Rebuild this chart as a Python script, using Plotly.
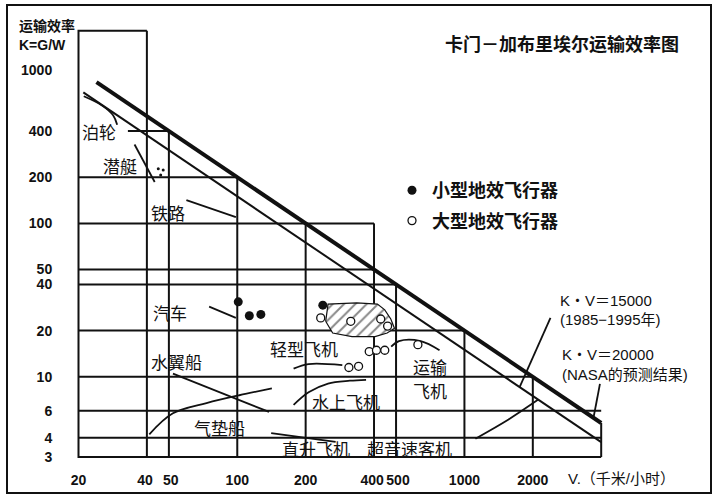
import numpy as np
import plotly.graph_objects as go

# ---------------- axis ticks ----------------
X_TICKS = [20, 40, 50, 100, 200, 400, 500, 1000, 2000]
Y_TICKS = [3, 4, 6, 10, 20, 40, 50, 100, 200, 400, 1000]

# ---------------- frame of the diagram (values) ----------------
V_LEFT, V_RIGHT = 20, 4000
K_BOTTOM, K_TOP = 3, 1800

# staircase grid: horizontal lines (K level, V start, V end)
GRID_H_K = [400, 200, 100, 50, 40, 20, 10, 6, 4]
GRID_H_V0 = [33, 20, 20, 20, 20, 20, 20, 20, 20]
GRID_H_V1 = [50, 100, 400, 400, 500, 1000, 2000, 4000, 4000]
# vertical lines (V level, K top) down to K_BOTTOM
GRID_V_V = [40, 50, 100, 200, 400, 500, 1000, 2000]
GRID_V_K1 = [1800, 400, 200, 100, 100, 40, 20, 10]

# K*V = const lines
KV_CONST = [15000, 20000]
KV_V_START = [21, 24]

# ---------------- vehicle curves (V km/h, K) ----------------
SHIP_V = [21.1, 25.5, 28.4, 29.6]
SHIP_K = [674, 585, 507, 440]
SUB_V = [35.3, 43.3]
SUB_K = [327, 186]
RAIL_V = [59.7, 98.6]
RAIL_K = [142, 110]
CAR_V = [75.2, 98.6]
CAR_K = [28.7, 24.2]
HYDROFOIL_V = [52.1, 138]
HYDROFOIL_K = [10.5, 5.9]
HOVER_V = [41.0, 52.1, 73.2, 102, 142]
HOVER_K = [4.22, 5.78, 6.74, 7.58, 8.39]
LIGHT_V = [177, 206, 290]
LIGHT_K = [11.3, 12.1, 11.9]
SEAPLANE_V = [177, 206, 251, 313, 369]
SEAPLANE_K = [6.55, 7.92, 9.03, 9.43, 9.56]
HELI_V = [141, 271]
HELI_K = [4.29, 3.77]
CARGO_V = [476, 515, 642, 777]
CARGO_K = [15.7, 17.1, 17.1, 14.9]
SST_V = [1118, 1564, 2114]
SST_K = [3.95, 5.27, 7.1]
LEAD15_V = [2392, 1750]
LEAD15_K = [24.2, 8.57]
LEAD20_V = [3950, 3700]
LEAD20_K = [9.0, 5.41]

# ground-effect craft
SMALL_WIG_V = [101, 113, 127, 238]
SMALL_WIG_K = [30.8, 25.0, 25.5, 29.3]
LARGE_WIG_V = [233, 316, 428, 459, 381, 410, 446, 310, 342, 624]
LARGE_WIG_K = [24.2, 23.0, 23.8, 21.4, 14.6, 14.9, 14.9, 11.5, 11.7, 16.2]
DOTS_V = [44.9, 46.0, 47.2]
DOTS_K = [227, 207, 223]
HATCH_V = [245, 251, 336, 414, 446, 474, 492, 457, 404, 320, 263, 245]
HATCH_K = [23, 29.8, 30.3, 29.8, 27.3, 23.8, 20.7, 19.3, 18.3, 18.3, 19.3, 23]

# labels (text, V, K)
LABELS = [
    ("泊轮", 24.6, 400), ("潜艇", 30.5, 240), ("铁路", 49.6, 118),
    ("汽车", 50.7, 26.4), ("水翼船", 54.2, 12.5), ("气垫船", 83.8, 4.7),
    ("轻型飞机", 196, 15.2), ("水上飞机", 301, 6.94), ("直升飞机", 223, 3.42),
    ("运输", 702, 11.7), ("飞机", 702, 8.15), ("超音速客机", 571, 3.42),
]
KV_LABELS = [
    ("K・V＝15000", 2586, 31.4), ("(1985−1995年)", 2586, 23.5),
    ("K・V＝20000", 2646, 13.9), ("(NASA的预测结果)", 2646, 10.4),
]

INK = "#111111"
CJK = "Noto Sans CJK SC, sans-serif"
LAT = "Liberation Sans, Arial, Noto Sans CJK SC, sans-serif"
NB = "\u00a0"

fig = go.Figure()

# grid staircase
gx, gy = [], []
for k, v0, v1 in zip(GRID_H_K, GRID_H_V0, GRID_H_V1):
    gx += [v0, v1, None]; gy += [k, k, None]
for v, k1 in zip(GRID_V_V, GRID_V_K1):
    gx += [v, v, None]; gy += [k1, K_BOTTOM, None]
gx += [V_RIGHT, V_LEFT, V_LEFT, 40, None, V_RIGHT, V_RIGHT]
gy += [K_BOTTOM, K_BOTTOM, K_TOP, K_TOP, None, K_BOTTOM, KV_CONST[1] / V_RIGHT]
fig.add_trace(go.Scatter(x=gx, y=gy, mode="lines", line=dict(color=INK, width=2),
                         showlegend=False, hoverinfo="skip"))

# K*V lines
for c, v0, w in zip(KV_CONST, KV_V_START, [2, 4]):
    fig.add_trace(go.Scatter(x=[v0, V_RIGHT], y=[c / v0, c / V_RIGHT], mode="lines",
                             line=dict(color=INK, width=w), showlegend=False, hoverinfo="skip"))

# curves
for xs, ys in [(SHIP_V, SHIP_K), (SUB_V, SUB_K), (RAIL_V, RAIL_K), (CAR_V, CAR_K),
               (HYDROFOIL_V, HYDROFOIL_K), (HOVER_V, HOVER_K), (LIGHT_V, LIGHT_K),
               (SEAPLANE_V, SEAPLANE_K), (HELI_V, HELI_K), (CARGO_V, CARGO_K),
               (SST_V, SST_K), (LEAD15_V, LEAD15_K), (LEAD20_V, LEAD20_K)]:
    fig.add_trace(go.Scatter(x=xs, y=ys, mode="lines", line=dict(color=INK, width=1.8, shape="spline"),
                             showlegend=False, hoverinfo="skip"))

# hatched region
fig.add_trace(go.Scatter(x=HATCH_V, y=HATCH_K, mode="lines", fill="toself", fillcolor="white",
                         fillpattern=dict(shape="/", fgcolor=INK, bgcolor="white", size=8, solidity=0.25),
                         line=dict(color=INK, width=1.2), showlegend=False, hoverinfo="skip"))

fig.add_trace(go.Scatter(x=DOTS_V, y=DOTS_K, mode="markers", marker=dict(color=INK, size=3),
                         showlegend=False, hoverinfo="skip"))

fig.add_trace(go.Scatter(x=SMALL_WIG_V, y=SMALL_WIG_K, mode="markers", name="<b>小型地效飞行器</b>",
                         marker=dict(color=INK, size=9), legendgroup="a"))
fig.add_trace(go.Scatter(x=LARGE_WIG_V, y=LARGE_WIG_K, mode="markers", name="<b>大型地效飞行器</b>",
                         marker=dict(color="white", size=8, line=dict(color=INK, width=1.3)),
                         legendgroup="b"))

ann = []
for t, v, k in LABELS:
    ann.append(dict(x=np.log10(v), y=np.log10(k), xref="x", yref="y", text=t, showarrow=False,
                    xanchor="center", yanchor="middle", font=dict(family=CJK, size=17, color=INK)))
for t, v, k in KV_LABELS:
    ann.append(dict(x=np.log10(v), y=np.log10(k), xref="x", yref="y", text=t, showarrow=False,
                    xanchor="left", yanchor="middle", font=dict(family=LAT, size=15, color=INK)))

# layout text (pixel based placement in paper coords)
L, R, T, B, W, H = 76, 114, 29, 39, 720, 498
PW, PH = W - L - R, H - T - B
def px(x): return (x - L) / PW
def py(y): return (H - B - y) / PH

def txt(x, y, t, fam, size):
    return dict(x=px(x), y=py(y), xref="paper", yref="paper", xanchor="left", yanchor="middle",
                text=t, showarrow=False, font=dict(family=fam, size=size, color=INK))

ann.append(txt(443, 43, "<b>卡门－加布里埃尔运输效率图</b>", CJK, 18))
ann.append(txt(17, 25, "<b>运输效率</b>", CJK, 14))
ann.append(txt(17, 45, "<b>K=G/W</b>", LAT, 14))
ann.append(txt(566, 478, "V.（千米/小时）", LAT, 15))

xt = []
for t in X_TICKS:
    s = f"<b>{t}</b>"
    if t in (40, 400):
        s = s + NB
    if t in (50, 500):
        s = NB + s
    xt.append(s)

fig.update_layout(
    width=W, height=H, margin=dict(l=L, r=R, t=T, b=B, autoexpand=False),
    paper_bgcolor="white", plot_bgcolor="white",
    annotations=ann,
    showlegend=True,
    legend=dict(x=px(392), y=py(172), xanchor="left", yanchor="top", bgcolor="rgba(0,0,0,0)",
                font=dict(family=CJK, size=18, color=INK), itemsizing="trace",
                tracegroupgap=4, traceorder="grouped"),
    shapes=[dict(type="rect", xref="paper", yref="paper", x0=px(7), x1=px(711), y0=py(493), y1=py(5),
                 line=dict(color=INK, width=2))],
)
fig.update_xaxes(type="log", range=[np.log10(19.5), np.log10(4200)], tickmode="array",
                 tickvals=X_TICKS, ticktext=xt, tickangle=0, automargin=False,
                 showgrid=False, zeroline=False, showline=False, ticks="outside", ticklen=8,
                 tickcolor="rgba(0,0,0,0)", tickfont=dict(family=LAT, size=14, color=INK))
fig.update_yaxes(type="log", range=[0.4641, 3.2672], tickmode="array",
                 tickvals=Y_TICKS, ticktext=[f"<b>{t}</b>" for t in Y_TICKS], automargin=False,
                 showgrid=False, zeroline=False, showline=False, ticks="outside", ticklen=20,
                 tickcolor="rgba(0,0,0,0)", tickfont=dict(family=LAT, size=14, color=INK))

fig.write_html("out.html")
